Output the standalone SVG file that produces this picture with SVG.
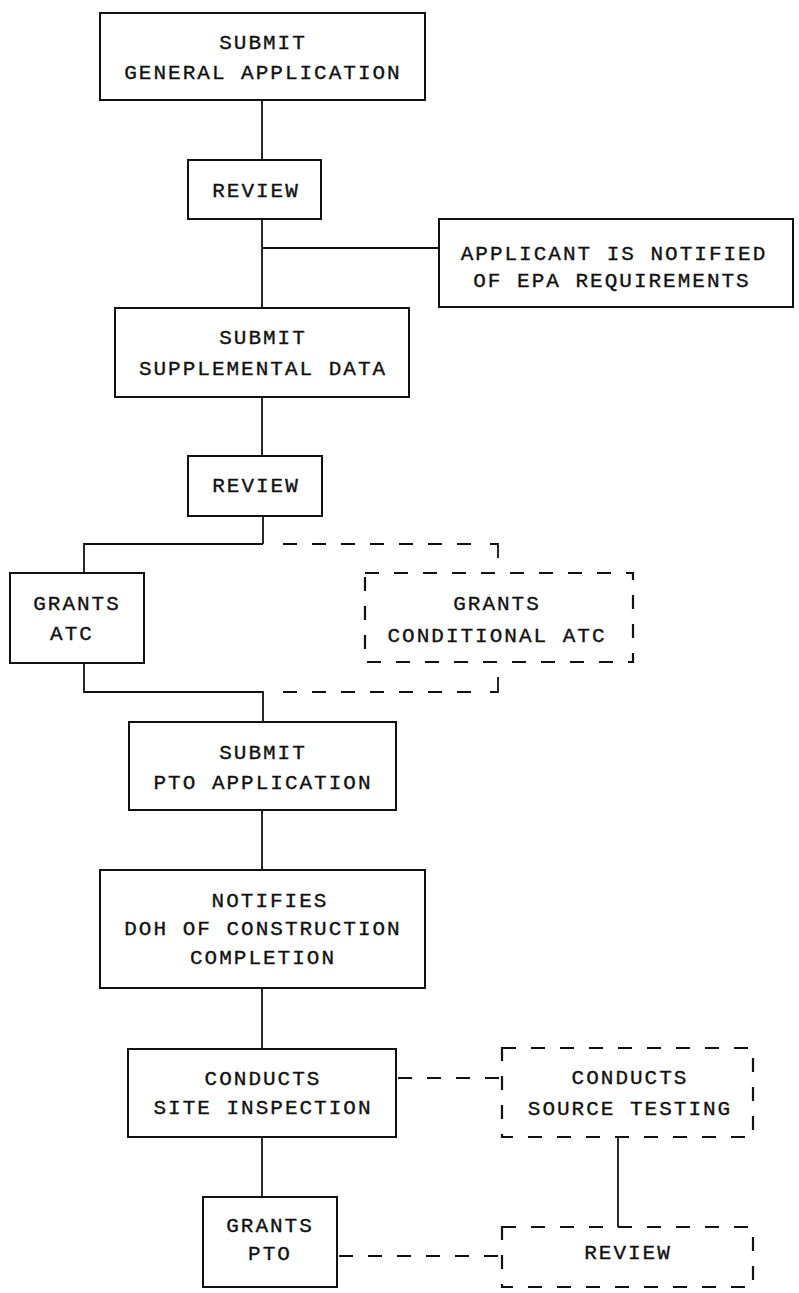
<svg xmlns="http://www.w3.org/2000/svg" width="799" height="1293" viewBox="0 0 799 1293">
<style>
.box{fill:none;stroke:#111;stroke-width:2}
.dbox{fill:none;stroke:#111;stroke-width:2.2;stroke-dasharray:14 15}
.ln{fill:none;stroke:#111;stroke-width:1.8}
.dl{fill:none;stroke:#111;stroke-width:2.2;stroke-dasharray:14 15}
text{font-family:"Liberation Mono","DejaVu Sans Mono",monospace;font-size:21px;letter-spacing:2px;fill:#111;stroke:#111;stroke-width:0.35;text-anchor:middle}
</style>
<rect width="799" height="1293" fill="#fff"/>
<g id="connectors">
<line class="ln" x1="262" y1="100" x2="262" y2="160"/>
<line class="ln" x1="262" y1="219" x2="262" y2="308"/>
<line class="ln" x1="262" y1="248" x2="439" y2="248"/>
<line class="ln" x1="262" y1="397" x2="262" y2="456"/>
<line class="ln" x1="263" y1="516" x2="263" y2="544"/>
<path class="ln" d="M84,573 V544 H263"/>
<path class="dl" d="M283,544 H484"/>
<path class="ln" d="M490,544 H498 V558"/>
<path class="ln" d="M84,663 V692 H263 V722"/>
<path class="dl" d="M283,692 H484"/>
<path class="ln" d="M490,692 H498 V677"/>
<line class="ln" x1="262" y1="810" x2="262" y2="870"/>
<line class="ln" x1="262" y1="988" x2="262" y2="1049"/>
<line class="dl" x1="398" y1="1078" x2="502" y2="1078"/>
<line class="ln" x1="262" y1="1137" x2="262" y2="1197"/>
<line class="ln" x1="618" y1="1137" x2="618" y2="1227"/>
<line class="dl" x1="339" y1="1256" x2="502" y2="1256"/>
</g>
<g id="n1"><rect class="box" x="100" y="13" width="325" height="87"/><text x="263" y="49">SUBMIT</text><text x="263" y="79">GENERAL APPLICATION</text></g>
<g id="n2"><rect class="box" x="188" y="160" width="133" height="59"/><text x="256" y="197">REVIEW</text></g>
<g id="n3"><rect class="box" x="439" y="219" width="354" height="88"/><text x="614" y="260">APPLICANT IS NOTIFIED</text><text x="612" y="287">OF EPA REQUIREMENTS</text></g>
<g id="n4"><rect class="box" x="115" y="308" width="294" height="89"/><text x="263" y="344">SUBMIT</text><text x="263" y="375">SUPPLEMENTAL DATA</text></g>
<g id="n5"><rect class="box" x="188" y="456" width="134" height="60"/><text x="256" y="492">REVIEW</text></g>
<g id="n6"><rect class="box" x="10" y="573" width="134" height="90"/><text x="77" y="610">GRANTS</text><text x="72" y="640">ATC</text></g>
<g id="n7"><rect class="dbox" x="365" y="573" width="268" height="89"/><text x="497" y="610">GRANTS</text><text x="497" y="642">CONDITIONAL ATC</text></g>
<g id="n8"><rect class="box" x="129" y="722" width="267" height="88"/><text x="263" y="759">SUBMIT</text><text x="263" y="789">PTO APPLICATION</text></g>
<g id="n9"><rect class="box" x="100" y="870" width="325" height="118"/><text x="270" y="907">NOTIFIES</text><text x="263" y="935">DOH OF CONSTRUCTION</text><text x="263" y="964">COMPLETION</text></g>
<g id="n10"><rect class="box" x="128" y="1049" width="268" height="88"/><text x="263" y="1085">CONDUCTS</text><text x="263" y="1114">SITE INSPECTION</text></g>
<g id="n11"><rect class="dbox" x="502" y="1048" width="251" height="89"/><text x="630" y="1084">CONDUCTS</text><text x="630" y="1115">SOURCE TESTING</text></g>
<g id="n12"><rect class="box" x="203" y="1197" width="134" height="90"/><text x="270" y="1232">GRANTS</text><text x="270" y="1260">PTO</text></g>
<g id="n13"><rect class="dbox" x="502" y="1227" width="251" height="60"/><text x="628" y="1259">REVIEW</text></g>
</svg>
